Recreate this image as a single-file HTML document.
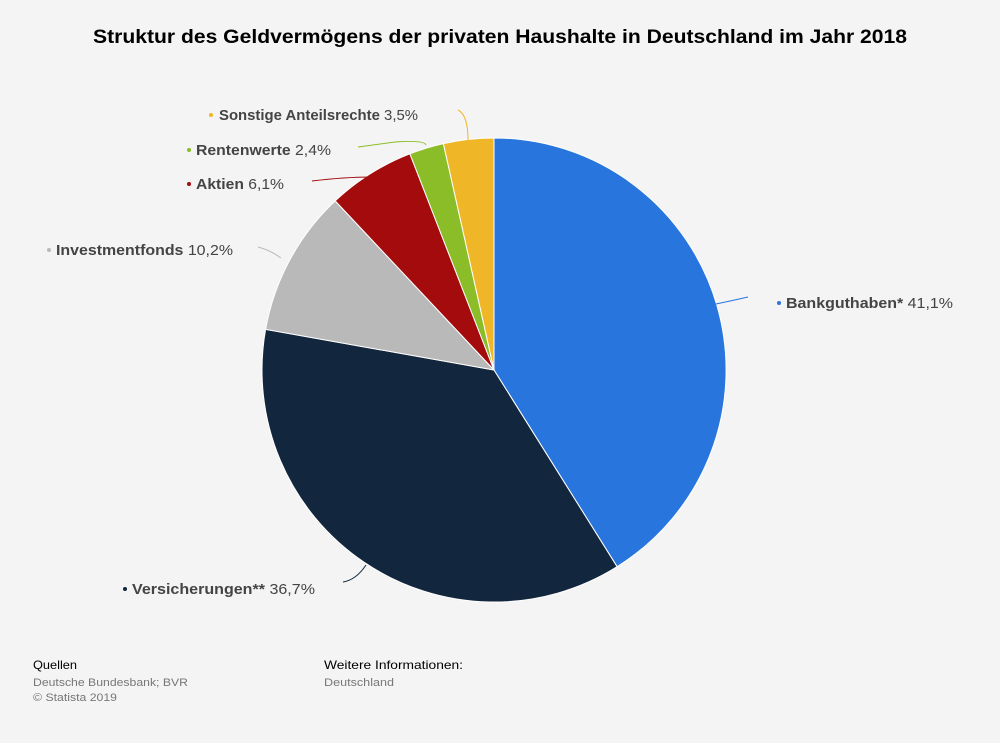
<!DOCTYPE html>
<html><head><meta charset="utf-8"><style>
body{margin:0;background:#f4f4f4;width:1000px;height:743px;overflow:hidden;font-family:"Liberation Sans",Arial,sans-serif;}
</style></head><body>
<svg width="1000" height="743" xmlns="http://www.w3.org/2000/svg" style="position:absolute;left:0;top:0">
<rect width="1000" height="743" fill="#f4f4f4"/>
<text x="93" y="43" font-size="19.5" font-weight="bold" fill="#000" textLength="814" lengthAdjust="spacingAndGlyphs">Struktur des Geldvermögens der privaten Haushalte in Deutschland im Jahr 2018</text>
<g stroke="#fff" stroke-width="1">
<path d="M494,370 L494,138 A232,232 0 0 1 617.1,566.7 Z" fill="#2876dd"/>
<path d="M494,370 L617.1,566.7 A232,232 0 0 1 265.6,329.4 Z" fill="#12263d"/>
<path d="M494,370 L265.6,329.4 A232,232 0 0 1 335.2,200.9 Z" fill="#b9b9b9"/>
<path d="M494,370 L335.2,200.9 A232,232 0 0 1 409.9,153.8 Z" fill="#a30b0c"/>
<path d="M494,370 L409.9,153.8 A232,232 0 0 1 443.4,143.6 Z" fill="#8bbd28"/>
<path d="M494,370 L443.4,143.6 A232,232 0 0 1 494,138 Z" fill="#efb728"/>
</g>
<g fill="none" stroke-width="1">
<path d="M716,304 Q735,300 748,297" stroke="#2876dd"/>
<path d="M366,565 Q356,580 343,582" stroke="#12263d"/>
<path d="M281,258 Q270,250 258,247" stroke="#b9b9b9"/>
<path d="M372,177 Q345,177 312,181" stroke="#a30b0c"/>
<path d="M426,145 Q425,140 395,142 L358,147" stroke="#8bbd28"/>
<path d="M468,140 Q468,115 458,110" stroke="#efb728"/>
</g>
<g font-size="15" fill="#444">
<circle cx="779" cy="303" r="2" fill="#2876dd"/>
<text x="786" y="308" textLength="167" lengthAdjust="spacingAndGlyphs"><tspan font-weight="bold">Bankguthaben*</tspan> 41,1%</text>
<circle cx="125" cy="589" r="2" fill="#12263d"/>
<text x="132" y="594" textLength="183" lengthAdjust="spacingAndGlyphs"><tspan font-weight="bold">Versicherungen**</tspan> 36,7%</text>
<circle cx="49" cy="250" r="2" fill="#b9b9b9"/>
<text x="56" y="255" textLength="177" lengthAdjust="spacingAndGlyphs"><tspan font-weight="bold">Investmentfonds</tspan> 10,2%</text>
<circle cx="189" cy="184" r="2" fill="#a30b0c"/>
<text x="196" y="189" textLength="88" lengthAdjust="spacingAndGlyphs"><tspan font-weight="bold">Aktien</tspan> 6,1%</text>
<circle cx="189" cy="150" r="2" fill="#8bbd28"/>
<text x="196" y="155" textLength="135" lengthAdjust="spacingAndGlyphs"><tspan font-weight="bold">Rentenwerte</tspan> 2,4%</text>
<circle cx="211" cy="115" r="2" fill="#efb728"/>
<text x="219" y="120" textLength="199" lengthAdjust="spacingAndGlyphs"><tspan font-weight="bold">Sonstige Anteilsrechte</tspan> 3,5%</text>
</g>
<text x="33" y="669" font-size="12" fill="#000" textLength="44" lengthAdjust="spacingAndGlyphs">Quellen</text>
<text x="33" y="686" font-size="11" fill="#777" textLength="155" lengthAdjust="spacingAndGlyphs">Deutsche Bundesbank; BVR</text>
<text x="33" y="701" font-size="11" fill="#777" textLength="84" lengthAdjust="spacingAndGlyphs">© Statista 2019</text>
<text x="324" y="669" font-size="12" fill="#000" textLength="139" lengthAdjust="spacingAndGlyphs">Weitere Informationen:</text>
<text x="324" y="686" font-size="11" fill="#777" textLength="70" lengthAdjust="spacingAndGlyphs">Deutschland</text>
</svg>
</body></html>
